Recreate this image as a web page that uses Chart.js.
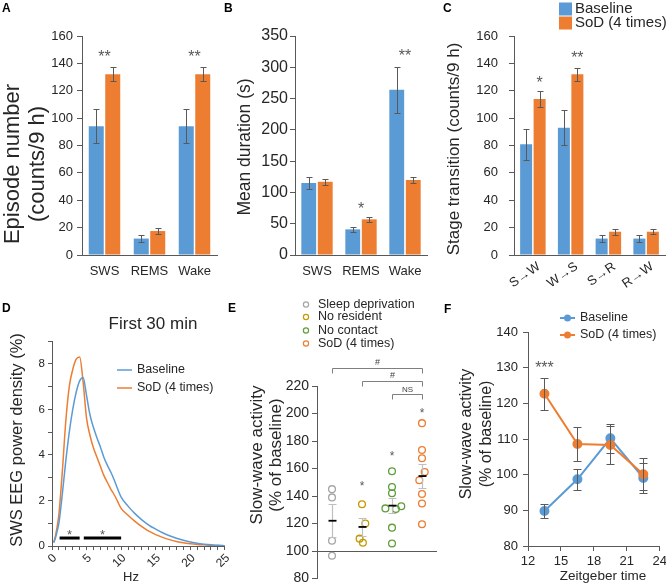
<!DOCTYPE html>
<html>
<head>
<meta charset="utf-8">
<script src="https://cdn.jsdelivr.net/npm/chart.js@4.4.1/dist/chart.umd.min.js"></script>
<style>
html,body{margin:0;padding:0;background:#fff;}
#fig{position:relative;width:666px;height:585px;overflow:hidden;background:#fff;font-family:'Liberation Sans',Arial,sans-serif;}
#fig canvas{position:absolute;}
.pl{position:absolute;font-weight:bold;font-size:12px;line-height:12px;color:#000;}
</style>
</head>
<body>
<div id="fig">
<canvas id="cA" style="left:0px;top:0px"></canvas>
<canvas id="cB" style="left:222px;top:0px"></canvas>
<canvas id="cC" style="left:444px;top:0px"></canvas>
<canvas id="cD" style="left:0px;top:290px"></canvas>
<canvas id="cE" style="left:236px;top:290px"></canvas>
<canvas id="cF" style="left:446px;top:290px"></canvas>
<div class="pl" style="left:2px;top:2px">A</div>
<div class="pl" style="left:224px;top:2px">B</div>
<div class="pl" style="left:443px;top:2px">C</div>
<div class="pl" style="left:2px;top:302px">D</div>
<div class="pl" style="left:228px;top:302px">E</div>
<div class="pl" style="left:444px;top:303px">F</div>
</div>
<script>
// ================= DATA =================
const seriesNames = ['Baseline', 'SoD (4 times)'];

// Panel A
const catsA = ['SWS', 'REMS', 'Wake'];
const baseA = [94, 12, 94];
const baseErrA = [12.5, 2.5, 12.5];
const sodA = [132, 17.5, 132];
const sodErrA = [5, 2, 5];
const starsA = ['**', '', '**'];
const starValA = [148, null, 148];

// Panel B
const catsB = ['SWS', 'REMS', 'Wake'];
const baseB = [115, 41, 264];
const baseErrB = [10, 4.5, 37];
const sodB = [117, 57, 120];
const sodErrB = [5, 4.5, 5];
const starsB = ['', '*', '**'];
const starValB = [null, 80, 324];

// Panel C
const catsC = ['S\u2192W', 'W\u2192S', 'S\u2192R', 'R\u2192W'];
const baseC = [81, 93, 12, 12];
const baseErrC = [11.3, 12.8, 2.7, 2.5];
const sodC = [114, 132, 17, 17];
const sodErrC = [5.8, 4.8, 2.1, 2];
const starsC = ['*', '**', '', ''];
const starValC = [129, 147, null, null];

// Panel D
const hzD   = [0.25, 0.5, 0.75, 1, 1.5, 2, 2.5, 3, 3.5, 4, 4.5, 5, 5.5, 6, 6.5, 7, 7.5, 8, 8.5, 9, 9.5, 10, 11, 12, 13, 14, 15, 16, 17, 18, 19, 20, 21, 22, 23, 24, 25];
const baseD = [0.15, 0.35, 0.65, 1.0, 2.3, 3.75, 5.0, 6.0, 6.75, 7.25, 7.4, 6.6, 5.75, 5.2, 4.75, 4.35, 3.9, 3.55, 3.25, 2.9, 2.5, 2.15, 1.75, 1.42, 1.15, 0.92, 0.74, 0.58, 0.45, 0.34, 0.25, 0.18, 0.12, 0.08, 0.05, 0.03, 0.01];
const sodD  = [0.15, 0.45, 0.85, 1.4, 3.3, 5.5, 7.0, 7.75, 8.2, 8.3, 7.2, 5.6, 4.85, 4.3, 3.9, 3.5, 3.1, 2.8, 2.5, 2.25, 1.95, 1.65, 1.35, 1.08, 0.85, 0.65, 0.5, 0.38, 0.28, 0.2, 0.14, 0.1, 0.07, 0.05, 0.03, 0.02, 0.01];
const sigBarsD = [[1.1, 4.0], [4.6, 10]];
const sigLevelD = 0.35;
const sigStarD = 0.62;

// Panel E
const catsE = ['Sleep deprivation', 'No resident', 'No contact', 'SoD (4 times)'];
const sdE = [145, 139, 107.5, 96.5];
const sdJitE = [0, 0, 0, 0];
const nrE = [134, 120, 109, 106];
const nrJitE = [0, 0.11, -0.08, 0.03];
const ncE = [158, 146.5, 142, 131, 130.5, 132.5, 117, 105.5];
const ncJitE = [0, 0, 0, -0.22, 0.13, 0.31, 0, 0];
const sodE = [193, 173.5, 167.5, 157.5, 151.5, 141.5, 134.5, 119.5];
const sodJitE = [0, 0, 0, 0.09, -0.09, 0, 0, 0];
const meanE = [122, 117.5, 133, 154.5];
const semE = [12, 6.5, 5.5, 8.5];
const starsE = ['', '*', '*', '*'];
const starValE = [null, 149, 171.5, 202.5];
const bracketsE = [[0, 3], [1, 3], [2, 3]];
const bracketLabelsE = ['#', '#', 'NS'];
const bracketValE = [233, 223.5, 214];
const refLineE = 100;

// Panel F
const ztF = [13.5, 16.5, 19.5, 22.5];
const baseF = [89.8, 98.7, 110.2, 99.1];
const baseErrF = [2, 3, 4, 4.1];
const sodF = [122.7, 108.6, 108.3, 100.1];
const sodErrF = [4.5, 4.8, 5.4, 4.5];
const starsF = ['***'];
const starXF = [13.5];
const starValF = [131];

// ================= STYLE / HELPERS =================
const FF = "'Liberation Sans', Arial, Helvetica, sans-serif";
const BLUE = '#5B9BD5', ORANGE = '#ED7D31', AX = '#595959', TXT = '#262626';
const colsE = ['#a6a6a6', '#c49a00', '#5f9e3a', ORANGE];
const fnt = (s, w) => ({family: FF, size: s, weight: w || 'normal', lineHeight: 1.2});
const css = (s, w) => `${w || 'normal'} ${s}px ${FF}`;

function setup(id, f) {
  const c = document.getElementById(id);
  c.width = f.W; c.height = f.H;
  c.style.width = f.W + 'px'; c.style.height = f.H + 'px';
  return c;
}
function common(f, scales, bottomPad) {
  return {
    responsive: false, animation: false, devicePixelRatio: 1, events: [],
    layout: {padding: {left: 0, top: f.T - f.Y, right: f.X + f.W - f.R, bottom: bottomPad || 0}},
    plugins: {legend: {display: false}, tooltip: {enabled: false}, title: {display: false}},
    scales
  };
}
function textPlugin(f, items) {
  return {id: 'texts', afterDraw(chart) {
    const ctx = chart.ctx;
    items.forEach(it => {
      ctx.save();
      ctx.translate(it.x - f.X, it.y - f.Y);
      if (it.rot) ctx.rotate(it.rot * Math.PI / 180);
      ctx.font = css(it.size, it.weight);
      ctx.fillStyle = it.color || TXT;
      ctx.textAlign = it.align || 'center';
      ctx.textBaseline = 'middle';
      ctx.fillText(it.t, 0, 0);
      ctx.restore();
    });
  }};
}
function errPlugin(errs, color, cap, lw) {
  return {id: 'errbars', afterDatasetsDraw(chart) {
    const ctx = chart.ctx, ys = chart.scales.y;
    ctx.save(); ctx.strokeStyle = color; ctx.lineWidth = lw || 1;
    errs.forEach((arr, di) => {
      const meta = chart.getDatasetMeta(di), ds = chart.data.datasets[di];
      meta.data.forEach((el, j) => {
        const e = arr[j]; if (e == null) return;
        const d = ds.data[j]; const v = (typeof d === 'object') ? d.y : d;
        const x = Math.round(el.x) + 0.5;
        const y1 = Math.round(ys.getPixelForValue(v + e)) + 0.5;
        const y2 = Math.round(ys.getPixelForValue(v - e)) + 0.5;
        ctx.beginPath();
        ctx.moveTo(x, y1); ctx.lineTo(x, y2);
        ctx.moveTo(x - cap, y1); ctx.lineTo(x + cap, y1);
        ctx.moveTo(x - cap, y2); ctx.lineTo(x + cap, y2);
        ctx.stroke();
      });
    });
    ctx.restore();
  }};
}
function starPlugin(stars, vals, opt) {
  return {id: 'stars', afterDatasetsDraw(chart) {
    const ctx = chart.ctx, ys = chart.scales.y, xs = chart.scales.x;
    ctx.save(); ctx.font = css(opt.size); ctx.fillStyle = opt.color || AX;
    ctx.textAlign = 'center'; ctx.textBaseline = 'alphabetic';
    stars.forEach((s, j) => {
      if (!s || vals[j] == null) return;
      let x;
      if (opt.xVals) x = xs.getPixelForValue(opt.xVals[j]);
      else if (opt.anchor != null) x = chart.getDatasetMeta(opt.anchor).data[j].x;
      else x = xs.getPixelForValue(j);
      ctx.fillText(s, x + (opt.dx || 0), ys.getPixelForValue(vals[j]) + 0.57 * opt.size);
    });
    ctx.restore();
  }};
}
function legendPlugin(f, items) {
  return {id: 'lg', afterDraw(chart) {
    const ctx = chart.ctx;
    items.forEach(it => {
      const x = it.mx - f.X, y = it.y - f.Y;
      ctx.save();
      ctx.strokeStyle = it.color; ctx.fillStyle = it.color;
      if (it.kind === 'box') {
        ctx.fillRect(x, y - it.s / 2, it.s, it.s);
      } else if (it.kind === 'line' || it.kind === 'linept') {
        ctx.lineWidth = it.lw || 1.5;
        ctx.beginPath(); ctx.moveTo(x, y); ctx.lineTo(x + it.len, y); ctx.stroke();
        if (it.kind === 'linept') { ctx.beginPath(); ctx.arc(x + it.len / 2, y, it.r, 0, 2 * Math.PI); ctx.fill(); }
      } else if (it.kind === 'circle') {
        ctx.lineWidth = 1.2; ctx.beginPath(); ctx.arc(x, y, it.r, 0, 2 * Math.PI); ctx.stroke();
      }
      ctx.font = css(it.size); ctx.fillStyle = it.tc || TXT;
      ctx.textAlign = 'left'; ctx.textBaseline = 'middle';
      ctx.fillText(it.label, it.tx - f.X, y);
      ctx.restore();
    });
  }};
}

function barChart(id, f, cats, s1, e1, s2, e2, cfg) {
  const c = setup(id, f);
  return new Chart(c, {
    type: 'bar',
    data: {labels: cats, datasets: [
      {label: seriesNames[0], data: s1, backgroundColor: BLUE, categoryPercentage: cfg.cp, barPercentage: cfg.bp},
      {label: seriesNames[1], data: s2, backgroundColor: ORANGE, categoryPercentage: cfg.cp, barPercentage: cfg.bp}
    ]},
    options: common(f, {
      x: {
        grid: {display: false, drawTicks: false},
        border: {display: true, color: AX, width: 1},
        ticks: {font: fnt(cfg.xFont), color: TXT, padding: cfg.xPad, maxRotation: cfg.rot || 0,
                minRotation: cfg.rot || 0, labelOffset: cfg.xOff || 0, autoSkip: false},
        afterFit: s => { s.height = f.Y + f.H - f.B; }
      },
      y: {
        min: 0, max: cfg.max,
        ticks: {stepSize: cfg.step, font: fnt(cfg.yFont), color: TXT, padding: cfg.yPad},
        grid: {drawOnChartArea: false, drawTicks: true, tickLength: 5, color: AX},
        border: {display: true, color: AX, width: 1},
        afterFit: s => { s.width = f.L - f.X; }
      }
    }),
    plugins: [errPlugin([e1, e2], AX, 3, 1),
              starPlugin(cfg.stars, cfg.starVals, {size: 16, color: AX, anchor: cfg.starAnchor}),
              textPlugin(f, cfg.texts)].concat(cfg.extra || [])
  });
}

// ================= PANEL A =================
const fA = {X: 0, Y: 0, W: 222, H: 290, L: 82, T: 36, R: 217, B: 255};
barChart('cA', fA, catsA, baseA, baseErrA, sodA, sodErrA, {
  max: 160, step: 20, cp: 0.733, bp: 0.91, xFont: 13, yFont: 13, xPad: 9, yPad: 4,
  stars: starsA, starVals: starValA, starAnchor: null,
  texts: [{t: 'Episode number', x: 12.5, y: 164, size: 22, rot: -90},
          {t: '(counts/9 h)', x: 38, y: 164, size: 22, rot: -90}]
});

// ================= PANEL B =================
const fB = {X: 222, Y: 0, W: 222, H: 290, L: 295, T: 36, R: 427, B: 255};
barChart('cB', fB, catsB, baseB, baseErrB, sodB, sodErrB, {
  max: 350, step: 50, cp: 0.75, bp: 0.9, xFont: 13, yFont: 16, xPad: 9, yPad: 2,
  stars: starsB, starVals: starValB, starAnchor: null,
  texts: [{t: 'Mean duration (s)', x: 245.5, y: 147, size: 17.5, rot: -90}]
});

// ================= PANEL C =================
const fC = {X: 444, Y: 0, W: 226, H: 290, L: 514, T: 36, R: 665, B: 255};
barChart('cC', fC, catsC, baseC, baseErrC, sodC, sodErrC, {
  max: 160, step: 20, cp: 0.715, bp: 0.89, xFont: 13, yFont: 13, xPad: 4, yPad: 11, rot: 35, xOff: 6,
  stars: starsC, starVals: starValC, starAnchor: 1,
  texts: [{t: 'Stage transition (counts/9 h)', x: 454, y: 149, size: 17, rot: -90}],
  extra: [legendPlugin(fC, [
    {kind: 'box', mx: 559, s: 13, y: 9, color: BLUE, label: seriesNames[0], tx: 575, size: 15},
    {kind: 'box', mx: 559, s: 13, y: 23, color: ORANGE, label: seriesNames[1], tx: 575, size: 15}
  ])]
});

// ================= PANEL D =================
const fD = {X: 0, Y: 290, W: 236, H: 295, L: 52, T: 341, R: 227, B: 546};
(function () {
  const c = setup('cD', fD);
  const sigPlugin = {id: 'sig', afterDatasetsDraw(chart) {
    const ctx = chart.ctx, xs = chart.scales.x, ys = chart.scales.y;
    ctx.save();
    sigBarsD.forEach(b => {
      const x1 = xs.getPixelForValue(b[0]), x2 = xs.getPixelForValue(b[1]);
      const y = ys.getPixelForValue(sigLevelD);
      ctx.strokeStyle = '#000'; ctx.lineWidth = 3;
      ctx.beginPath(); ctx.moveTo(x1, y); ctx.lineTo(x2, y); ctx.stroke();
      ctx.font = css(13); ctx.fillStyle = AX; ctx.textAlign = 'center'; ctx.textBaseline = 'alphabetic';
      ctx.fillText('*', (x1 + x2) / 2, ys.getPixelForValue(sigStarD) + 0.57 * 13);
    });
    ctx.restore();
  }};
  new Chart(c, {
    type: 'line',
    data: {datasets: [
      {label: seriesNames[0], data: hzD.map((h, i) => ({x: h, y: baseD[i]})), borderColor: BLUE, borderWidth: 1.5,
       pointRadius: 0, cubicInterpolationMode: 'monotone', fill: false},
      {label: seriesNames[1], data: hzD.map((h, i) => ({x: h, y: sodD[i]})), borderColor: ORANGE, borderWidth: 1.5,
       pointRadius: 0, cubicInterpolationMode: 'monotone', fill: false}
    ]},
    options: common(fD, {
      x: {type: 'linear', min: 0, max: 25,
          ticks: {stepSize: 1, maxTicksLimit: 100, autoSkip: false, maxRotation: 45, minRotation: 45,
                  font: fnt(12), color: TXT, padding: 1, labelOffset: 3,
                  callback: v => (v % 5 === 0 ? String(v) : '')},
          grid: {drawOnChartArea: false, tickLength: 4, color: AX},
          border: {display: true, color: AX},
          afterFit: s => { s.height = fD.Y + fD.H - fD.B; }},
      y: {min: 0, max: 9,
          ticks: {stepSize: 1, maxTicksLimit: 100, font: fnt(11.5), color: TXT, padding: 3,
                  callback: v => (v % 2 === 0 ? String(v) : '')},
          grid: {drawOnChartArea: false, tickLength: 4, color: AX},
          border: {display: true, color: AX},
          afterFit: s => { s.width = fD.L - fD.X; }}
    }),
    plugins: [sigPlugin,
      textPlugin(fD, [
        {t: 'SWS EEG power density (%)', x: 17.5, y: 440, size: 16.5, rot: -90},
        {t: 'First 30 min', x: 153, y: 324, size: 17},
        {t: 'Hz', x: 131, y: 577, size: 13}
      ]),
      legendPlugin(fD, [
        {kind: 'line', mx: 117, len: 15, y: 370, lw: 1.5, color: BLUE, label: seriesNames[0], tx: 137, size: 12.5},
        {kind: 'line', mx: 117, len: 15, y: 388, lw: 1.5, color: ORANGE, label: seriesNames[1], tx: 137, size: 12.5}
      ])]
  });
})();

// ================= PANEL E =================
const fE = {X: 236, Y: 290, W: 210, H: 300, L: 317, T: 386, R: 437, B: 578.5};
(function () {
  const c = setup('cE', fE);
  const groups = [sdE, nrE, ncE, sodE];
  const jits = [sdJitE, nrJitE, ncJitE, sodJitE];
  const deco = {id: 'edeco',
    beforeDatasetsDraw(chart) {
      const ctx = chart.ctx, ys = chart.scales.y, a = chart.chartArea;
      const y = Math.round(ys.getPixelForValue(refLineE)) + 0.5;
      ctx.save(); ctx.strokeStyle = AX; ctx.lineWidth = 1;
      ctx.beginPath(); ctx.moveTo(a.left, y); ctx.lineTo(a.right, y); ctx.stroke();
      ctx.restore();
    },
    afterDatasetsDraw(chart) {
      const ctx = chart.ctx, ys = chart.scales.y, xs = chart.scales.x;
      ctx.save();
      meanE.forEach((m, g) => {
        const x = Math.round(xs.getPixelForValue(g)) + 0.5;
        const y1 = Math.round(ys.getPixelForValue(m + semE[g])) + 0.5;
        const y2 = Math.round(ys.getPixelForValue(m - semE[g])) + 0.5;
        ctx.strokeStyle = '#bfbfbf'; ctx.lineWidth = 1.2;
        ctx.beginPath();
        ctx.moveTo(x, y1); ctx.lineTo(x, y2);
        ctx.moveTo(x - 4, y1); ctx.lineTo(x + 4, y1);
        ctx.moveTo(x - 4, y2); ctx.lineTo(x + 4, y2);
        ctx.stroke();
        const ym = ys.getPixelForValue(m);
        ctx.strokeStyle = '#000'; ctx.lineWidth = 1.8;
        ctx.beginPath(); ctx.moveTo(x - 4, ym); ctx.lineTo(x + 4, ym); ctx.stroke();
      });
      ctx.font = css(12); ctx.fillStyle = AX; ctx.textAlign = 'center'; ctx.textBaseline = 'alphabetic';
      starsE.forEach((s, g) => {
        if (!s) return;
        ctx.fillText(s, xs.getPixelForValue(g), ys.getPixelForValue(starValE[g]) + 0.57 * 12);
      });
      bracketsE.forEach((b, k) => {
        const x1 = Math.round(xs.getPixelForValue(b[0])) + 0.5, x2 = Math.round(xs.getPixelForValue(b[1])) + 0.5;
        const y = Math.round(ys.getPixelForValue(bracketValE[k])) + 0.5;
        ctx.strokeStyle = '#7f7f7f'; ctx.lineWidth = 1;
        ctx.beginPath();
        ctx.moveTo(x1, y + 5); ctx.lineTo(x1, y); ctx.lineTo(x2, y); ctx.lineTo(x2, y + 5);
        ctx.stroke();
        ctx.fillStyle = '#404040';
        ctx.font = css(bracketLabelsE[k] === 'NS' ? 8 : 9);
        ctx.textBaseline = 'bottom';
        ctx.fillText(bracketLabelsE[k], (x1 + x2) / 2, y - 1);
      });
      ctx.restore();
    }
  };
  new Chart(c, {
    type: 'scatter',
    data: {datasets: groups.map((vals, g) => ({
      label: catsE[g],
      data: vals.map((v, k) => ({x: g + jits[g][k], y: v})),
      pointRadius: 3.4, pointBorderWidth: 1.3, borderColor: colsE[g],
      backgroundColor: 'rgba(255,255,255,0)', pointBackgroundColor: 'rgba(255,255,255,0)'
    }))},
    options: common(fE, {
      x: {type: 'linear', min: -0.5, max: 3.5, display: false},
      y: {min: 80, max: 220,
          ticks: {stepSize: 20, font: fnt(14), color: TXT, padding: 3},
          grid: {drawOnChartArea: false, tickLength: 5, color: AX},
          border: {display: true, color: AX},
          afterFit: s => { s.width = fE.L - fE.X; }}
    }, fE.Y + fE.H - fE.B),
    plugins: [deco,
      textPlugin(fE, [
        {t: 'Slow-wave activity', x: 257, y: 455, size: 17, rot: -90},
        {t: '(% of baseline)', x: 276, y: 455, size: 17, rot: -90}
      ]),
      legendPlugin(fE, catsE.map((lab, g) => ({kind: 'circle', mx: 306, r: 2.6, y: [304.5, 317, 330.5, 343.5][g],
        color: colsE[g], label: lab, tx: 318, size: 12.5})))]
  });
})();

// ================= PANEL F =================
const fF = {X: 446, Y: 290, W: 224, H: 295, L: 528, T: 332, R: 660, B: 546};
(function () {
  const c = setup('cF', fF);
  new Chart(c, {
    type: 'line',
    data: {datasets: [
      {label: seriesNames[0], data: ztF.map((x, i) => ({x, y: baseF[i]})), borderColor: BLUE, backgroundColor: BLUE,
       pointBackgroundColor: BLUE, pointBorderColor: BLUE, borderWidth: 2, pointRadius: 4, order: 1},
      {label: seriesNames[1], data: ztF.map((x, i) => ({x, y: sodF[i]})), borderColor: ORANGE, backgroundColor: ORANGE,
       pointBackgroundColor: ORANGE, pointBorderColor: ORANGE, borderWidth: 2, pointRadius: 4, order: 0}
    ]},
    options: common(fF, {
      x: {type: 'linear', min: 12, max: 24,
          ticks: {stepSize: 3, font: fnt(13), color: TXT, padding: 3},
          grid: {drawOnChartArea: false, tickLength: 5, color: AX},
          border: {display: true, color: AX},
          afterFit: s => { s.height = fF.Y + fF.H - fF.B; }},
      y: {min: 80, max: 140,
          ticks: {stepSize: 10, font: fnt(13), color: TXT, padding: 5},
          grid: {drawOnChartArea: false, tickLength: 5, color: AX},
          border: {display: true, color: AX},
          afterFit: s => { s.width = fF.L - fF.X; }}
    }),
    plugins: [errPlugin([baseErrF, sodErrF], AX, 4, 1),
      starPlugin(starsF, starValF, {size: 16, color: AX, xVals: starXF}),
      textPlugin(fF, [
        {t: 'Slow-wave activity', x: 467, y: 434, size: 16, rot: -90},
        {t: '(% of baseline)', x: 487, y: 434, size: 16, rot: -90},
        {t: 'Zeitgeber time', x: 603, y: 576, size: 13.5}
      ]),
      legendPlugin(fF, [
        {kind: 'linept', mx: 560, len: 15, y: 318, r: 3.5, lw: 2, color: BLUE, label: seriesNames[0], tx: 580, size: 12.5},
        {kind: 'linept', mx: 560, len: 15, y: 335, r: 3.5, lw: 2, color: ORANGE, label: seriesNames[1], tx: 580, size: 12.5}
      ])]
  });
})();
</script>
</body>
</html>
